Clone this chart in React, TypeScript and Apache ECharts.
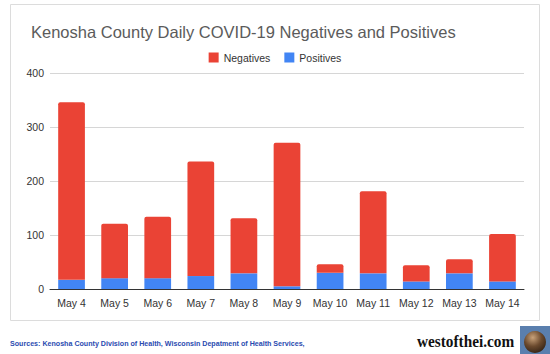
import React, { useEffect, useRef } from "react";
import * as echarts from "echarts";

const categories = ["May 4", "May 5", "May 6", "May 7", "May 8", "May 9", "May 10", "May 11", "May 12", "May 13", "May 14"];
const positives = [17, 20, 20, 24, 29, 5, 30, 29, 14, 29, 14];
const negatives = [329, 101, 114, 212, 102, 266, 16, 152, 30, 26, 88];
const yTicks = { min: 0, max: 400, interval: 100 };
const titleText = "Kenosha County Daily COVID-19 Negatives and Positives";
const sourceText = "Sources: Kenosha County Division of Health, Wisconsin Depatment of Health Services,";
const siteText = "westofthei.com";

export default function App() {
  const ref = useRef<HTMLDivElement>(null);
  useEffect(() => {
    document.body.style.margin = "0";
    const chart = echarts.init(ref.current!, null, { renderer: "svg" });
    chart.setOption({
      animation: false,
      backgroundColor: "#ffffff",
      textStyle: { fontFamily: "Arial, 'Liberation Sans', sans-serif" },
      title: {
        text: titleText,
        left: 26,
        top: 18,
        textStyle: { fontSize: 16.5, fontWeight: "normal", color: "#5b5b5b", fontFamily: "Arial, 'Liberation Sans', sans-serif" },
      },
      legend: {
        data: ["Negatives", "Positives"],
        top: 47,
        left: "center",
        itemWidth: 10,
        itemHeight: 10,
        itemGap: 14,
        icon: "rect",
        textStyle: { fontSize: 10.5, color: "#333" },
      },
      grid: { left: 50, right: 26, top: 73, bottom: 65, containLabel: false },
      xAxis: {
        type: "category",
        data: categories,
        axisLine: { lineStyle: { color: "#333", width: 1 } },
        axisTick: { show: false },
        axisLabel: { fontSize: 10.5, color: "#333", margin: 8, interval: 0 },
      },
      yAxis: {
        type: "value",
        min: yTicks.min,
        max: yTicks.max,
        interval: yTicks.interval,
        axisLine: { show: false },
        axisTick: { show: false },
        axisLabel: { fontSize: 10.5, color: "#333", margin: 6 },
        splitLine: { lineStyle: { color: "#d6d6d6" } },
      },
      series: [
        {
          name: "Positives",
          type: "bar",
          stack: "total",
          data: positives,
          barWidth: "62%",
          itemStyle: { color: "#4285f4" },
        },
        {
          name: "Negatives",
          type: "bar",
          stack: "total",
          data: negatives,
          barWidth: "62%",
          itemStyle: { color: "#ea4335", borderRadius: [2, 2, 0, 0] },
        },
      ],
      graphic: [
        {
          type: "rect",
          z: 100,
          silent: true,
          shape: { x: 10.5, y: 4.5, width: 529, height: 316 },
          style: { fill: "none", stroke: "#dcdcdc", lineWidth: 1 },
        },
        {
          type: "text",
          x: 10,
          y: 339,
          scaleX: 0.95,
          style: {
            text: sourceText,
            fontSize: 7.5,
            fontWeight: "bold",
            fill: "#2a4bb0",
            fontFamily: "Arial, 'Liberation Sans', sans-serif",
          },
        },
        {
          type: "text",
          x: 417,
          y: 333,
          scaleX: 0.9,
          style: {
            text: siteText,
            fontSize: 17,
            fontWeight: "bold",
            fill: "#111",
            fontFamily: "'Liberation Serif', 'DejaVu Serif', serif",
          },
        },
        {
          type: "rect",
          shape: { x: 520, y: 326, width: 30, height: 28 },
          style: { fill: "#5a7fae" },
        },
        {
          type: "circle",
          shape: { cx: 535, cy: 342, r: 11 },
          style: {
            fill: new echarts.graphic.RadialGradient(0.4, 0.3, 0.8, [
              { offset: 0, color: "#c9a27a" },
              { offset: 0.5, color: "#6b4a2e" },
              { offset: 1, color: "#2b1d12" },
            ]),
          },
        },
      ],
    });
    return () => chart.dispose();
  }, []);
  return <div ref={ref} style={{ width: 550, height: 354, position: "absolute", left: 0, top: 0 }} />;
}
